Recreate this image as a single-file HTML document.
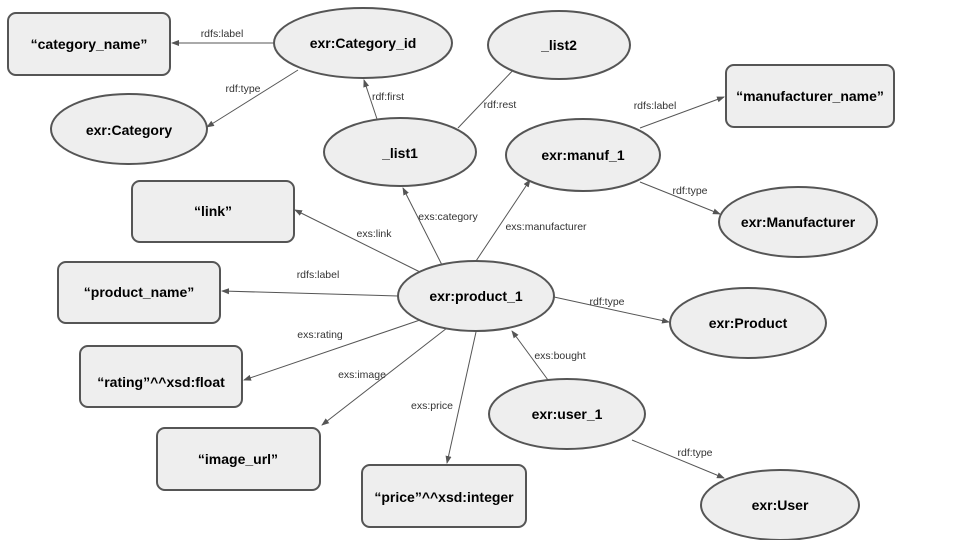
<!DOCTYPE html>
<html><head><meta charset="utf-8"><style>
body{margin:0;background:#fff}
svg{display:block}
.n{fill:#eeeeee;stroke:#555;stroke-width:2}
.t{font-family:"Liberation Sans",sans-serif;font-weight:bold;font-size:14px;fill:#000;text-anchor:middle;dominant-baseline:central}
.l{font-family:"Liberation Sans",sans-serif;font-size:10.5px;fill:#333;text-anchor:middle}
.e{stroke:#555;stroke-width:1;fill:none;marker-end:url(#a)}
</style></head><body>
<svg width="960" height="540" viewBox="0 0 960 540">
<defs><marker id="a" markerWidth="8" markerHeight="8" refX="7" refY="4" orient="auto" markerUnits="userSpaceOnUse"><path d="M0,1 L8,4 L0,7 z" fill="#555"/></marker></defs>
<g>
<line class="e" x1="274" y1="43" x2="172" y2="43"/>
<line class="e" x1="298" y1="70" x2="207" y2="127"/>
<line class="e" x1="377" y1="119" x2="364" y2="80"/>
<line class="e" x1="458" y1="128" x2="518" y2="65"/>
<line class="e" x1="640" y1="128" x2="724" y2="97"/>
<line class="e" x1="640" y1="182" x2="720" y2="214"/>
<line class="e" x1="420" y1="272" x2="295" y2="210"/>
<line class="e" x1="442" y1="265" x2="403" y2="188"/>
<line class="e" x1="476" y1="261" x2="530" y2="180"/>
<line class="e" x1="398" y1="296" x2="222" y2="291"/>
<line class="e" x1="420" y1="320" x2="244" y2="380"/>
<line class="e" x1="447" y1="328" x2="322" y2="425"/>
<line class="e" x1="476" y1="332" x2="447" y2="463"/>
<line class="e" x1="554" y1="297" x2="669" y2="322"/>
<line class="e" x1="548" y1="380" x2="512" y2="331"/>
<line class="e" x1="632" y1="440" x2="724" y2="478"/>
</g>
<g>
<text class="l" x="222" y="37">rdfs:label</text>
<text class="l" x="243" y="92">rdf:type</text>
<text class="l" x="388" y="100">rdf:first</text>
<text class="l" x="500" y="108">rdf:rest</text>
<text class="l" x="655" y="109">rdfs:label</text>
<text class="l" x="690" y="194">rdf:type</text>
<text class="l" x="374" y="237">exs:link</text>
<text class="l" x="448" y="220">exs:category</text>
<text class="l" x="546" y="230">exs:manufacturer</text>
<text class="l" x="318" y="278">rdfs:label</text>
<text class="l" x="320" y="338">exs:rating</text>
<text class="l" x="362" y="378">exs:image</text>
<text class="l" x="432" y="409">exs:price</text>
<text class="l" x="607" y="305">rdf:type</text>
<text class="l" x="560" y="359">exs:bought</text>
<text class="l" x="695" y="456">rdf:type</text>
</g>
<g>
<rect class="n" x="8" y="13" width="162" height="62" rx="8"/><text class="t" x="89" y="44">“category_name”</text>
<ellipse class="n" cx="363" cy="43" rx="89" ry="35"/><text class="t" x="363" y="43">exr:Category_id</text>
<ellipse class="n" cx="559" cy="45" rx="71" ry="34"/><text class="t" x="559" y="45">_list2</text>
<ellipse class="n" cx="129" cy="129" rx="78" ry="35"/><text class="t" x="129" y="130">exr:Category</text>
<ellipse class="n" cx="400" cy="152" rx="76" ry="34"/><text class="t" x="400" y="153">_list1</text>
<ellipse class="n" cx="583" cy="155" rx="77" ry="36"/><text class="t" x="583" y="155">exr:manuf_1</text>
<rect class="n" x="726" y="65" width="168" height="62" rx="8"/><text class="t" x="810" y="96">“manufacturer_name”</text>
<ellipse class="n" cx="798" cy="222" rx="79" ry="35"/><text class="t" x="798" y="222">exr:Manufacturer</text>
<rect class="n" x="132" y="181" width="162" height="61" rx="8"/><text class="t" x="213" y="211">“link”</text>
<rect class="n" x="58" y="262" width="162" height="61" rx="8"/><text class="t" x="139" y="292">“product_name”</text>
<ellipse class="n" cx="476" cy="296" rx="78" ry="35"/><text class="t" x="476" y="296">exr:product_1</text>
<ellipse class="n" cx="748" cy="323" rx="78" ry="35"/><text class="t" x="748" y="323">exr:Product</text>
<rect class="n" x="80" y="346" width="162" height="61" rx="8"/><text class="t" x="161" y="382">“rating”^^xsd:float</text>
<rect class="n" x="157" y="428" width="163" height="62" rx="8"/><text class="t" x="238" y="459">“image_url”</text>
<ellipse class="n" cx="567" cy="414" rx="78" ry="35"/><text class="t" x="567" y="414">exr:user_1</text>
<rect class="n" x="362" y="465" width="164" height="62" rx="8"/><text class="t" x="444" y="497">“price”^^xsd:integer</text>
<ellipse class="n" cx="780" cy="505" rx="79" ry="35"/><text class="t" x="780" y="505">exr:User</text>
</g>
</svg>
</body></html>
